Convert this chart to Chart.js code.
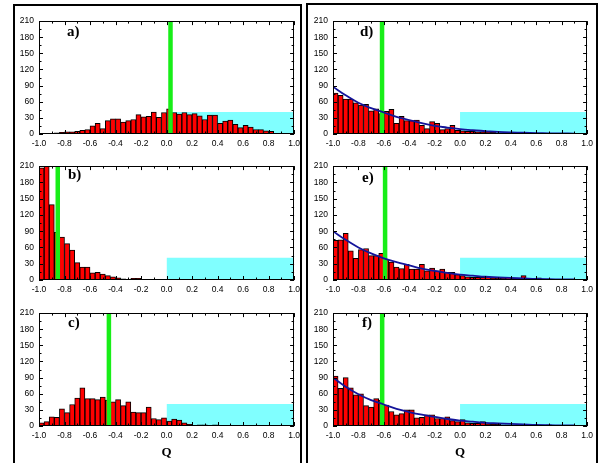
<!DOCTYPE html>
<html><head><meta charset="utf-8">
<script src="https://cdn.jsdelivr.net/npm/chart.js@4.4.1/dist/chart.umd.min.js"></script>
<style>
html,body{margin:0;padding:0;background:#fff;}
body{width:605px;height:463px;overflow:hidden;position:relative;}
canvas{position:absolute;}
.frame{position:absolute;border:2px solid #000;box-sizing:border-box;}
.lab{position:absolute;font:bold 15px "Liberation Serif","Times New Roman",serif;color:#000;line-height:15px;z-index:5;}
</style></head><body>
<div class="frame" style="left:13px;top:4px;width:289px;height:480px"></div>
<div class="frame" style="left:306px;top:3px;width:292px;height:480px"></div>
<canvas id="pa"></canvas><canvas id="pb"></canvas><canvas id="pc"></canvas>
<canvas id="pd"></canvas><canvas id="pe"></canvas><canvas id="pf"></canvas>
<div class="lab" style="left:67px;top:24px">a)</div>
<div class="lab" style="left:68px;top:167px">b)</div>
<div class="lab" style="left:68px;top:315px">c)</div>
<div class="lab" style="left:360px;top:24px">d)</div>
<div class="lab" style="left:362px;top:170px">e)</div>
<div class="lab" style="left:362px;top:315px">f)</div>
<script>
// bin centres (Q), 50 bins of width 0.04
const binQ = [-0.98,-0.94,-0.90,-0.86,-0.82,-0.78,-0.74,-0.70,-0.66,-0.62,
              -0.58,-0.54,-0.50,-0.46,-0.42,-0.38,-0.34,-0.30,-0.26,-0.22,
              -0.18,-0.14,-0.10,-0.06,-0.02,0.02,0.06,0.10,0.14,0.18,
              0.22,0.26,0.30,0.34,0.38,0.42,0.46,0.50,0.54,0.58,
              0.62,0.66,0.70,0.74,0.78,0.82,0.86,0.90,0.94,0.98];

const countsA = [0,0,0,2,3,4,4,5,7,8, 15,20,10,25,28,28,22,25,27,36, 32,33,41,31,40,47,40,37,40,36,
                 38,34,27,35,35,20,24,26,18,12, 16,13,8,8,6,5,1,1,1,0];
const countsB = [207,210,139,88,79,67,55,32,24,24, 13,14,11,8,6,4,2,1,3,3, 0,0,0,1,0,0,0,0,0,0,
                 0,0,0,0,0,0,0,0,0,0, 0,0,0,0,0,0,0,0,0,0];
const countsC = [6,8,17,16,32,25,40,52,71,51, 51,49,54,48,45,49,38,45,26,25, 25,35,14,12,15,9,13,11,6,3,
                 0,2,2,1,2,1,0,0,0,0, 0,0,0,0,0,0,0,0,0,0];
const countsD = [76,72,65,65,58,54,55,43,47,38, 42,46,20,33,25,25,26,16,10,23, 20,8,10,16,7,6,5,5,4,4,
                 4,3,2,2,2,3,1,1,1,1, 1,1,0,1,0,0,0,0,0,0];
const countsE = [73,74,86,54,40,56,58,45,45,49, 38,33,24,21,29,20,20,29,17,22, 17,20,14,14,10,8,6,5,5,5,
                 6,4,4,4,5,3,3,8,2,2, 4,1,1,1,1,1,0,0,0,0];
const countsF = [93,70,90,71,58,60,38,35,51,48, 39,27,21,23,30,30,15,16,21,21, 14,14,17,10,8,12,6,5,5,8,
                 4,3,3,2,2,2,2,1,1,2, 1,1,2,1,1,0,0,0,0,0];

// position of the green marker line (Q) for each panel
const markerQ = {a:0.031, b:-0.853, c:-0.452, d:-0.614, e:-0.590, f:-0.613};

// cyan region: Q from 0 to 1, height 41
const regionQ = [0, 1];
const regionTop = 41;

// fitted curves (panels d, e, f)
const fitQ = [-1.0,-0.9,-0.8,-0.7,-0.6,-0.5,-0.4,-0.3,-0.2,-0.1,0.0,0.1,0.2,0.3,0.4,0.5,0.6,0.7,0.8,0.9];
const fitD = [88,72,58,48,40,32,26,20,15,12,9,7,5.5,4,3,2.3,1.7,1.3,1,0.8];
const fitE = [90,74,60,49,40,33,27,21,17,13,10,8,6,5,4,3,2,1.5,1.2,1];
const fitF = [90,73,59,48,40,32,26,21,17,13,10,8,6,5,4,3,2,1.5,1.2,1];

const yTicks = {min:0, max:210, step:30};
const xTicks = {min:-1, max:1, step:0.2};

const boxTicks = {
  id:'boxTicks',
  afterDatasetsDraw(chart){
    const {ctx, chartArea:a, scales:{x,y}} = chart;
    ctx.save();
    ctx.strokeStyle='#000'; ctx.lineWidth=1;
    ctx.beginPath();
    for (let i=0;i<=20;i++){
      const v = xTicks.min + i*0.1;
      const px = Math.round(x.getPixelForValue(v))+0.5;
      const len = i%2===0 ? 4 : 2.5;
      ctx.moveTo(px,a.bottom); ctx.lineTo(px,a.bottom-len);
      ctx.moveTo(px,a.top); ctx.lineTo(px,a.top+len);
    }
    for (let v=yTicks.min; v<=yTicks.max; v+=15){
      const py = Math.round(y.getPixelForValue(v))+0.5;
      const len = v%30===0 ? 4 : 2.5;
      ctx.moveTo(a.left,py); ctx.lineTo(a.left+len,py);
      ctx.moveTo(a.right,py); ctx.lineTo(a.right-len,py);
    }
    ctx.stroke();
    ctx.strokeRect(Math.round(a.left)+0.5, Math.round(a.top)+0.5, Math.round(a.right-a.left)-1, Math.round(a.bottom-a.top)-1);
    ctx.restore();
  }
};

const tickFont = {family:'"Liberation Sans", Arial, sans-serif', size:8.5};

function makePanel(id, L, T, R, B, counts, gq, fit, bottom){
  const padL = 36, padT = 6, padR = 10;
  const xh = bottom ? 40 : 18;
  const cv = document.getElementById(id);
  cv.width = R - L + padL + padR;
  cv.height = B - T + padT + xh;
  cv.style.left = (L - padL) + 'px';
  cv.style.top = (T - padT) + 'px';
  const datasets = [];
  if (fit) {
    datasets.push({type:'line', data: fitQ.map((q,i)=>({x:q, y:fit[i]})), borderColor:'#14149a',
      borderWidth:1.8, pointRadius:0, tension:0.4, fill:false, order:0});
  }
  datasets.push({type:'line', data:[{x:gq,y:yTicks.min},{x:gq,y:yTicks.max}], borderColor:'#18ee18',
    borderWidth:4.5, pointRadius:0, borderCapStyle:'butt', fill:false, order:1});
  datasets.push({type:'bar', data: binQ.map((q,i)=>({x:q, y:counts[i]})), backgroundColor:'#ff0000',
    borderColor:'#000', borderWidth:1, barPercentage:1, categoryPercentage:1, order:2});
  datasets.push({type:'line', data:[{x:regionQ[0],y:regionTop},{x:regionQ[1],y:regionTop}], fill:'origin',
    backgroundColor:'#80ffff', borderWidth:0, pointRadius:0, order:3});
  new Chart(cv, {
    type:'bar',
    data:{datasets},
    plugins:[boxTicks],
    options:{
      responsive:false, animation:false, devicePixelRatio:1,
      layout:{padding:{left:0, top:padT, right:padR, bottom:0}},
      plugins:{legend:{display:false}, tooltip:{enabled:false}, title:{display:false}},
      scales:{
        x:{type:'linear', min:xTicks.min, max:xTicks.max, offset:false,
           grid:{display:false, drawTicks:false}, border:{display:false},
           ticks:{stepSize:xTicks.step, autoSkip:false, maxRotation:0, padding:5, color:'#000', font:tickFont,
                  callback:(v)=> (Math.abs(v)<1e-9?0:v).toFixed(1)},
           title: bottom ? {display:true, text:'Q', color:'#000',
                  font:{family:'"Liberation Serif","Times New Roman",serif', weight:'bold', size:13},
                  padding:{top:0,bottom:6}} : {display:false},
           afterFit:(s)=>{ s.height = xh; }
        },
        y:{min:yTicks.min, max:yTicks.max,
           grid:{display:false, drawTicks:false}, border:{display:false},
           ticks:{stepSize:yTicks.step, padding:5, color:'#000', font:tickFont},
           afterFit:(s)=>{ s.width = padL; }
        }
      }
    }
  });
}

makePanel('pa', 39, 17, 295, 134, countsA, markerQ.a, null, false);
makePanel('pb', 39, 162, 295, 280, countsB, markerQ.b, null, false);
makePanel('pc', 39, 309, 295, 426, countsC, markerQ.c, null, true);
makePanel('pd', 333, 17, 588, 134, countsD, markerQ.d, fitD, false);
makePanel('pe', 333, 162, 588, 280, countsE, markerQ.e, fitE, false);
makePanel('pf', 333, 309, 588, 426, countsF, markerQ.f, fitF, true);
</script>
</body></html>
